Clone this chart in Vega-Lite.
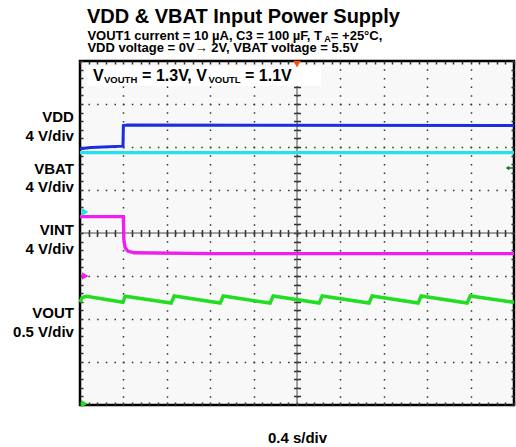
{
  "$schema": "https://vega.github.io/schema/vega-lite/v6.json",
  "width": 434,
  "height": 344,
  "autosize": {"type": "none"},
  "padding": {"left": 80, "top": 61, "right": 2, "bottom": 42},
  "background": "white",
  "title": {
    "text": "VDD & VBAT Input Power Supply",
    "anchor": "start",
    "frame": "group",
    "font": "Liberation Sans",
    "fontSize": 20,
    "fontWeight": "bold",
    "color": "black",
    "dx": 7,
    "offset": 3
  },
  "config": {
    "font": "Liberation Sans",
    "view": {"fill": "#f8f8f8", "stroke": "black", "strokeWidth": 2.5}
  },
  "datasets": {
    "traces": [
      {"trace": "VDD", "t": 0, "v": 5.96},
      {"trace": "VDD", "t": 0.25, "v": 5.99},
      {"trace": "VDD", "t": 0.99, "v": 6.02},
      {"trace": "VDD", "t": 1.0, "v": 6.5},
      {"trace": "VDD", "t": 1.1, "v": 6.51},
      {"trace": "VDD", "t": 10, "v": 6.5},
      {"trace": "VBAT", "t": 0, "v": 5.87},
      {"trace": "VBAT", "t": 10, "v": 5.87},
      {"trace": "VINT", "t": 0, "v": 4.38},
      {"trace": "VINT", "t": 1.0, "v": 4.38},
      {"trace": "VINT", "t": 1.01, "v": 3.85},
      {"trace": "VINT", "t": 1.04, "v": 3.66},
      {"trace": "VINT", "t": 1.1, "v": 3.58},
      {"trace": "VINT", "t": 1.25, "v": 3.54},
      {"trace": "VINT", "t": 3, "v": 3.52},
      {"trace": "VINT", "t": 10, "v": 3.52},
      {"trace": "VOUT", "t": 0, "v": 2.39},
      {"trace": "VOUT", "t": 0.05, "v": 2.5},
      {"trace": "VOUT", "t": 0.15, "v": 2.53},
      {"trace": "VOUT", "t": 0.99, "v": 2.39},
      {"trace": "VOUT", "t": 1.04, "v": 2.53},
      {"trace": "VOUT", "t": 2.1, "v": 2.37},
      {"trace": "VOUT", "t": 2.17, "v": 2.535},
      {"trace": "VOUT", "t": 3.23, "v": 2.37},
      {"trace": "VOUT", "t": 3.3, "v": 2.535},
      {"trace": "VOUT", "t": 4.38, "v": 2.37},
      {"trace": "VOUT", "t": 4.45, "v": 2.535},
      {"trace": "VOUT", "t": 5.51, "v": 2.37},
      {"trace": "VOUT", "t": 5.58, "v": 2.535},
      {"trace": "VOUT", "t": 6.66, "v": 2.37},
      {"trace": "VOUT", "t": 6.73, "v": 2.535},
      {"trace": "VOUT", "t": 7.79, "v": 2.37},
      {"trace": "VOUT", "t": 7.86, "v": 2.535},
      {"trace": "VOUT", "t": 8.92, "v": 2.37},
      {"trace": "VOUT", "t": 8.99, "v": 2.535},
      {"trace": "VOUT", "t": 10, "v": 2.39}
    ],
    "markers": [
      {"marker": "VBAT", "t": 0.12, "v": 4.49},
      {"marker": "VINT", "t": 0.12, "v": 3.0},
      {"marker": "VOUT", "t": 0.1, "v": 0.03},
      {"marker": "Trigger", "t": 5.0, "v": 7.93},
      {"marker": "Trigger level", "t": 9.9, "v": 5.51}
    ],
    "leftLabels": [
      {"text": "VDD", "t": -0.14, "v": 6.593},
      {"text": "4 V/div", "t": -0.14, "v": 6.151},
      {"text": "VBAT", "t": -0.14, "v": 5.372},
      {"text": "4 V/div", "t": -0.14, "v": 4.942},
      {"text": "VINT", "t": -0.14, "v": 3.953},
      {"text": "4 V/div", "t": -0.14, "v": 3.523},
      {"text": "VOUT", "t": -0.14, "v": 2.023},
      {"text": "0.5 V/div", "t": -0.14, "v": 1.581}
    ],
    "annotMain": [
      {"text": "V", "t": 0.3, "v": 7.535},
      {"text": "= 1.3V, V", "t": 1.431, "v": 7.535},
      {"text": "= 1.1V", "t": 3.802, "v": 7.535}
    ],
    "annotSub": [
      {"text": "VOUTH", "t": 0.553, "v": 7.49},
      {"text": "VOUTL", "t": 2.959, "v": 7.49}
    ],
    "subMain": [
      {"text": "VOUT1 current = 10 µA, C3 = 100 µF, T", "t": 0.17, "v": 8.488},
      {"text": "= +25°C,", "t": 5.78, "v": 8.488},
      {"text": "VDD voltage = 0V→ 2V, VBAT voltage = 5.5V", "t": 0.17, "v": 8.198}
    ],
    "subSub": [
      {"text": "A", "t": 5.629, "v": 8.445}
    ]
  },
  "resolve": {"axis": {"x": "independent", "y": "independent"}},
  "layer": [
    {
      "data": {"values": [{"t": 5}]},
      "mark": {"type": "rule", "color": "#4a4a4a", "strokeWidth": 1},
      "encoding": {
        "x": {"field": "t", "type": "quantitative", "scale": {"domain": [0, 10], "nice": false, "zero": false}, "axis": null}
      }
    },
    {
      "data": {"values": [{"v": 4}]},
      "mark": {"type": "rule", "color": "#4a4a4a", "strokeWidth": 1},
      "encoding": {
        "y": {"field": "v", "type": "quantitative", "scale": {"domain": [0, 8], "nice": false, "zero": false}, "axis": null}
      }
    },
    {
      "data": {"name": "traces"},
      "mark": {"type": "line", "interpolate": "linear", "strokeCap": "butt"},
      "encoding": {
        "x": {
          "field": "t", "type": "quantitative",
          "scale": {"domain": [0, 10], "nice": false, "zero": false},
          "axis": {
            "orient": "bottom",
            "values": [0,0.2,0.4,0.6,0.8,1,1.2,1.4,1.6,1.8,2,2.2,2.4,2.6,2.8,3,3.2,3.4,3.6,3.8,4,4.2,4.4,4.6,4.8,5,5.2,5.4,5.6,5.8,6,6.2,6.4,6.6,6.8,7,7.2,7.4,7.6,7.8,8,8.2,8.4,8.6,8.8,9,9.2,9.4,9.6,9.8,10],
            "grid": true,
            "gridColor": "#333333",
            "gridWidth": 1.5,
            "gridDash": [1.5, 7.1],
            "gridDashOffset": 0.75,
            "gridOpacity": {"condition": {"test": "abs(datum.value - round(datum.value)) < 0.01 && datum.value > 0.5 && datum.value < 9.5", "value": 1}, "value": 0},
            "ticks": true,
            "tickSize": -3,
            "tickWidth": 1.5,
            "tickColor": "#333333",
            "domain": false,
            "labels": false,
            "title": "0.4 s/div",
            "titleFont": "Liberation Sans",
            "titleFontSize": 15,
            "titleFontWeight": "bold",
            "titleColor": "black",
            "titleX": 217,
            "titleY": 37,
            "titleAlign": "center",
            "titleBaseline": "alphabetic"
          }
        },
        "y": {
          "field": "v", "type": "quantitative",
          "scale": {"domain": [0, 8], "nice": false, "zero": false},
          "axis": {
            "orient": "left",
            "values": [0,0.2,0.4,0.6,0.8,1,1.2,1.4,1.6,1.8,2,2.2,2.4,2.6,2.8,3,3.2,3.4,3.6,3.8,4,4.2,4.4,4.6,4.8,5,5.2,5.4,5.6,5.8,6,6.2,6.4,6.6,6.8,7,7.2,7.4,7.6,7.8,8],
            "grid": true,
            "gridColor": "#333333",
            "gridWidth": 1.5,
            "gridDash": [1.5, 7.18],
            "gridDashOffset": 0.75,
            "gridOpacity": {"condition": {"test": "abs(datum.value - round(datum.value)) < 0.01 && datum.value > 0.5 && datum.value < 7.5", "value": 1}, "value": 0},
            "ticks": true,
            "tickSize": -3,
            "tickWidth": 1.5,
            "tickColor": "#333333",
            "domain": false,
            "labels": false,
            "title": null
          }
        },
        "detail": {"field": "trace", "type": "nominal"},
        "color": {
          "field": "trace", "type": "nominal",
          "scale": {"domain": ["VDD", "VBAT", "VINT", "VOUT", "Trigger", "Trigger level"], "range": ["#1a2ee0", "#22e2ee", "#f01cf0", "#22dd22", "#ff4a10", "#167a16"]},
          "legend": null
        },
        "strokeWidth": {
          "field": "trace", "type": "nominal",
          "scale": {"domain": ["VDD", "VBAT", "VINT", "VOUT"], "range": [3, 3.5, 3, 4.5]},
          "legend": null
        }
      }
    },
    {
      "data": {"values": [{"t": 0.161, "t2": 5.553, "v": 7.42, "v2": 7.88}]},
      "mark": {"type": "rect", "fill": "white"},
      "encoding": {
        "x": {"field": "t", "type": "quantitative", "scale": {"domain": [0, 10], "nice": false, "zero": false}, "axis": null},
        "x2": {"field": "t2"},
        "y": {"field": "v", "type": "quantitative", "scale": {"domain": [0, 8], "nice": false, "zero": false}, "axis": null},
        "y2": {"field": "v2"}
      }
    },
    {
      "data": {"name": "annotMain"},
      "mark": {"type": "text", "font": "Liberation Sans", "fontWeight": "bold", "fontSize": 16, "align": "left", "baseline": "alphabetic", "color": "black"},
      "encoding": {
        "x": {
          "field": "t", "type": "quantitative",
          "scale": {"domain": [0, 10], "nice": false, "zero": false},
          "axis": {
            "orient": "bottom",
            "offset": -175.5,
            "values": [0.2,0.4,0.6,0.8,1,1.2,1.4,1.6,1.8,2,2.2,2.4,2.6,2.8,3,3.2,3.4,3.6,3.8,4,4.2,4.4,4.6,4.8,5,5.2,5.4,5.6,5.8,6,6.2,6.4,6.6,6.8,7,7.2,7.4,7.6,7.8,8,8.2,8.4,8.6,8.8,9,9.2,9.4,9.6,9.8],
            "grid": false,
            "ticks": true,
            "tickSize": 7,
            "tickWidth": 1.5,
            "tickColor": "#333333",
            "domain": false,
            "labels": false,
            "title": null
          }
        },
        "y": {
          "field": "v", "type": "quantitative",
          "scale": {"domain": [0, 8], "nice": false, "zero": false},
          "axis": {
            "orient": "left",
            "offset": -220.5,
            "values": [0.2,0.4,0.6,0.8,1,1.2,1.4,1.6,1.8,2,2.2,2.4,2.6,2.8,3,3.2,3.4,3.6,3.8,4,4.2,4.4,4.6,4.8,5,5.2,5.4,5.6,5.8,6,6.2,6.4,6.6,6.8,7,7.2,7.4,7.6,7.8],
            "grid": false,
            "ticks": true,
            "tickSize": 7,
            "tickWidth": 1.5,
            "tickColor": "#333333",
            "domain": false,
            "labels": false,
            "title": null
          }
        },
        "text": {"field": "text"}
      }
    },
    {
      "data": {"name": "annotSub"},
      "mark": {"type": "text", "font": "Liberation Sans", "fontWeight": "bold", "fontSize": 9.5, "align": "left", "baseline": "alphabetic", "color": "black"},
      "encoding": {
        "x": {"field": "t", "type": "quantitative", "scale": {"domain": [0, 10], "nice": false, "zero": false}, "axis": null},
        "y": {"field": "v", "type": "quantitative", "scale": {"domain": [0, 8], "nice": false, "zero": false}, "axis": null},
        "text": {"field": "text"}
      }
    },
    {
      "data": {"name": "markers"},
      "mark": {"type": "point", "filled": true, "opacity": 1, "strokeWidth": 0},
      "encoding": {
        "x": {
          "field": "t", "type": "quantitative",
          "scale": {"domain": [0, 10], "nice": false, "zero": false},
          "axis": {
            "orient": "top",
            "values": [0,0.2,0.4,0.6,0.8,1,1.2,1.4,1.6,1.8,2,2.2,2.4,2.6,2.8,3,3.2,3.4,3.6,3.8,4,4.2,4.4,4.6,4.8,5,5.2,5.4,5.6,5.8,6,6.2,6.4,6.6,6.8,7,7.2,7.4,7.6,7.8,8,8.2,8.4,8.6,8.8,9,9.2,9.4,9.6,9.8,10],
            "grid": false,
            "ticks": true,
            "tickSize": -3,
            "tickWidth": 1.5,
            "tickColor": "#333333",
            "domain": false,
            "labels": false,
            "title": null
          }
        },
        "y": {
          "field": "v", "type": "quantitative",
          "scale": {"domain": [0, 8], "nice": false, "zero": false},
          "axis": {
            "orient": "right",
            "values": [0,0.2,0.4,0.6,0.8,1,1.2,1.4,1.6,1.8,2,2.2,2.4,2.6,2.8,3,3.2,3.4,3.6,3.8,4,4.2,4.4,4.6,4.8,5,5.2,5.4,5.6,5.8,6,6.2,6.4,6.6,6.8,7,7.2,7.4,7.6,7.8,8],
            "grid": false,
            "ticks": true,
            "tickSize": -3,
            "tickWidth": 1.5,
            "tickColor": "#333333",
            "domain": false,
            "labels": false,
            "title": null
          }
        },
        "color": {
          "field": "marker", "type": "nominal",
          "scale": {"domain": ["VDD", "VBAT", "VINT", "VOUT", "Trigger", "Trigger level"], "range": ["#1a2ee0", "#22e2ee", "#f01cf0", "#22dd22", "#ff4a10", "#167a16"]},
          "legend": null
        },
        "shape": {
          "field": "marker", "type": "nominal",
          "scale": {"domain": ["VBAT", "VINT", "VOUT", "Trigger", "Trigger level"], "range": ["triangle-right", "triangle-right", "triangle-right", "triangle-down", "M-1,0L-0.1,-0.6L-0.1,-0.18L1,-0.18L1,0.18L-0.1,0.18L-0.1,0.6Z"]},
          "legend": null
        },
        "size": {
          "field": "marker", "type": "nominal",
          "scale": {"domain": ["VBAT", "VINT", "VOUT", "Trigger", "Trigger level"], "range": [60, 60, 60, 75, 130]},
          "legend": null
        }
      }
    },
    {
      "data": {"name": "leftLabels"},
      "mark": {"type": "text", "font": "Liberation Sans", "fontWeight": "bold", "fontSize": 15, "align": "right", "baseline": "alphabetic", "color": "black"},
      "encoding": {
        "x": {"field": "t", "type": "quantitative", "scale": {"domain": [0, 10], "nice": false, "zero": false}, "axis": null},
        "y": {"field": "v", "type": "quantitative", "scale": {"domain": [0, 8], "nice": false, "zero": false}, "axis": null},
        "text": {"field": "text"}
      }
    },
    {
      "data": {"name": "subMain"},
      "mark": {"type": "text", "font": "Liberation Sans", "fontWeight": "bold", "fontSize": 13, "align": "left", "baseline": "alphabetic", "color": "black"},
      "encoding": {
        "x": {"field": "t", "type": "quantitative", "scale": {"domain": [0, 10], "nice": false, "zero": false}, "axis": null},
        "y": {"field": "v", "type": "quantitative", "scale": {"domain": [0, 8], "nice": false, "zero": false}, "axis": null},
        "text": {"field": "text"}
      }
    },
    {
      "data": {"name": "subSub"},
      "mark": {"type": "text", "font": "Liberation Sans", "fontWeight": "bold", "fontSize": 9, "align": "left", "baseline": "alphabetic", "color": "black"},
      "encoding": {
        "x": {"field": "t", "type": "quantitative", "scale": {"domain": [0, 10], "nice": false, "zero": false}, "axis": null},
        "y": {"field": "v", "type": "quantitative", "scale": {"domain": [0, 8], "nice": false, "zero": false}, "axis": null},
        "text": {"field": "text"}
      }
    }
  ]
}
